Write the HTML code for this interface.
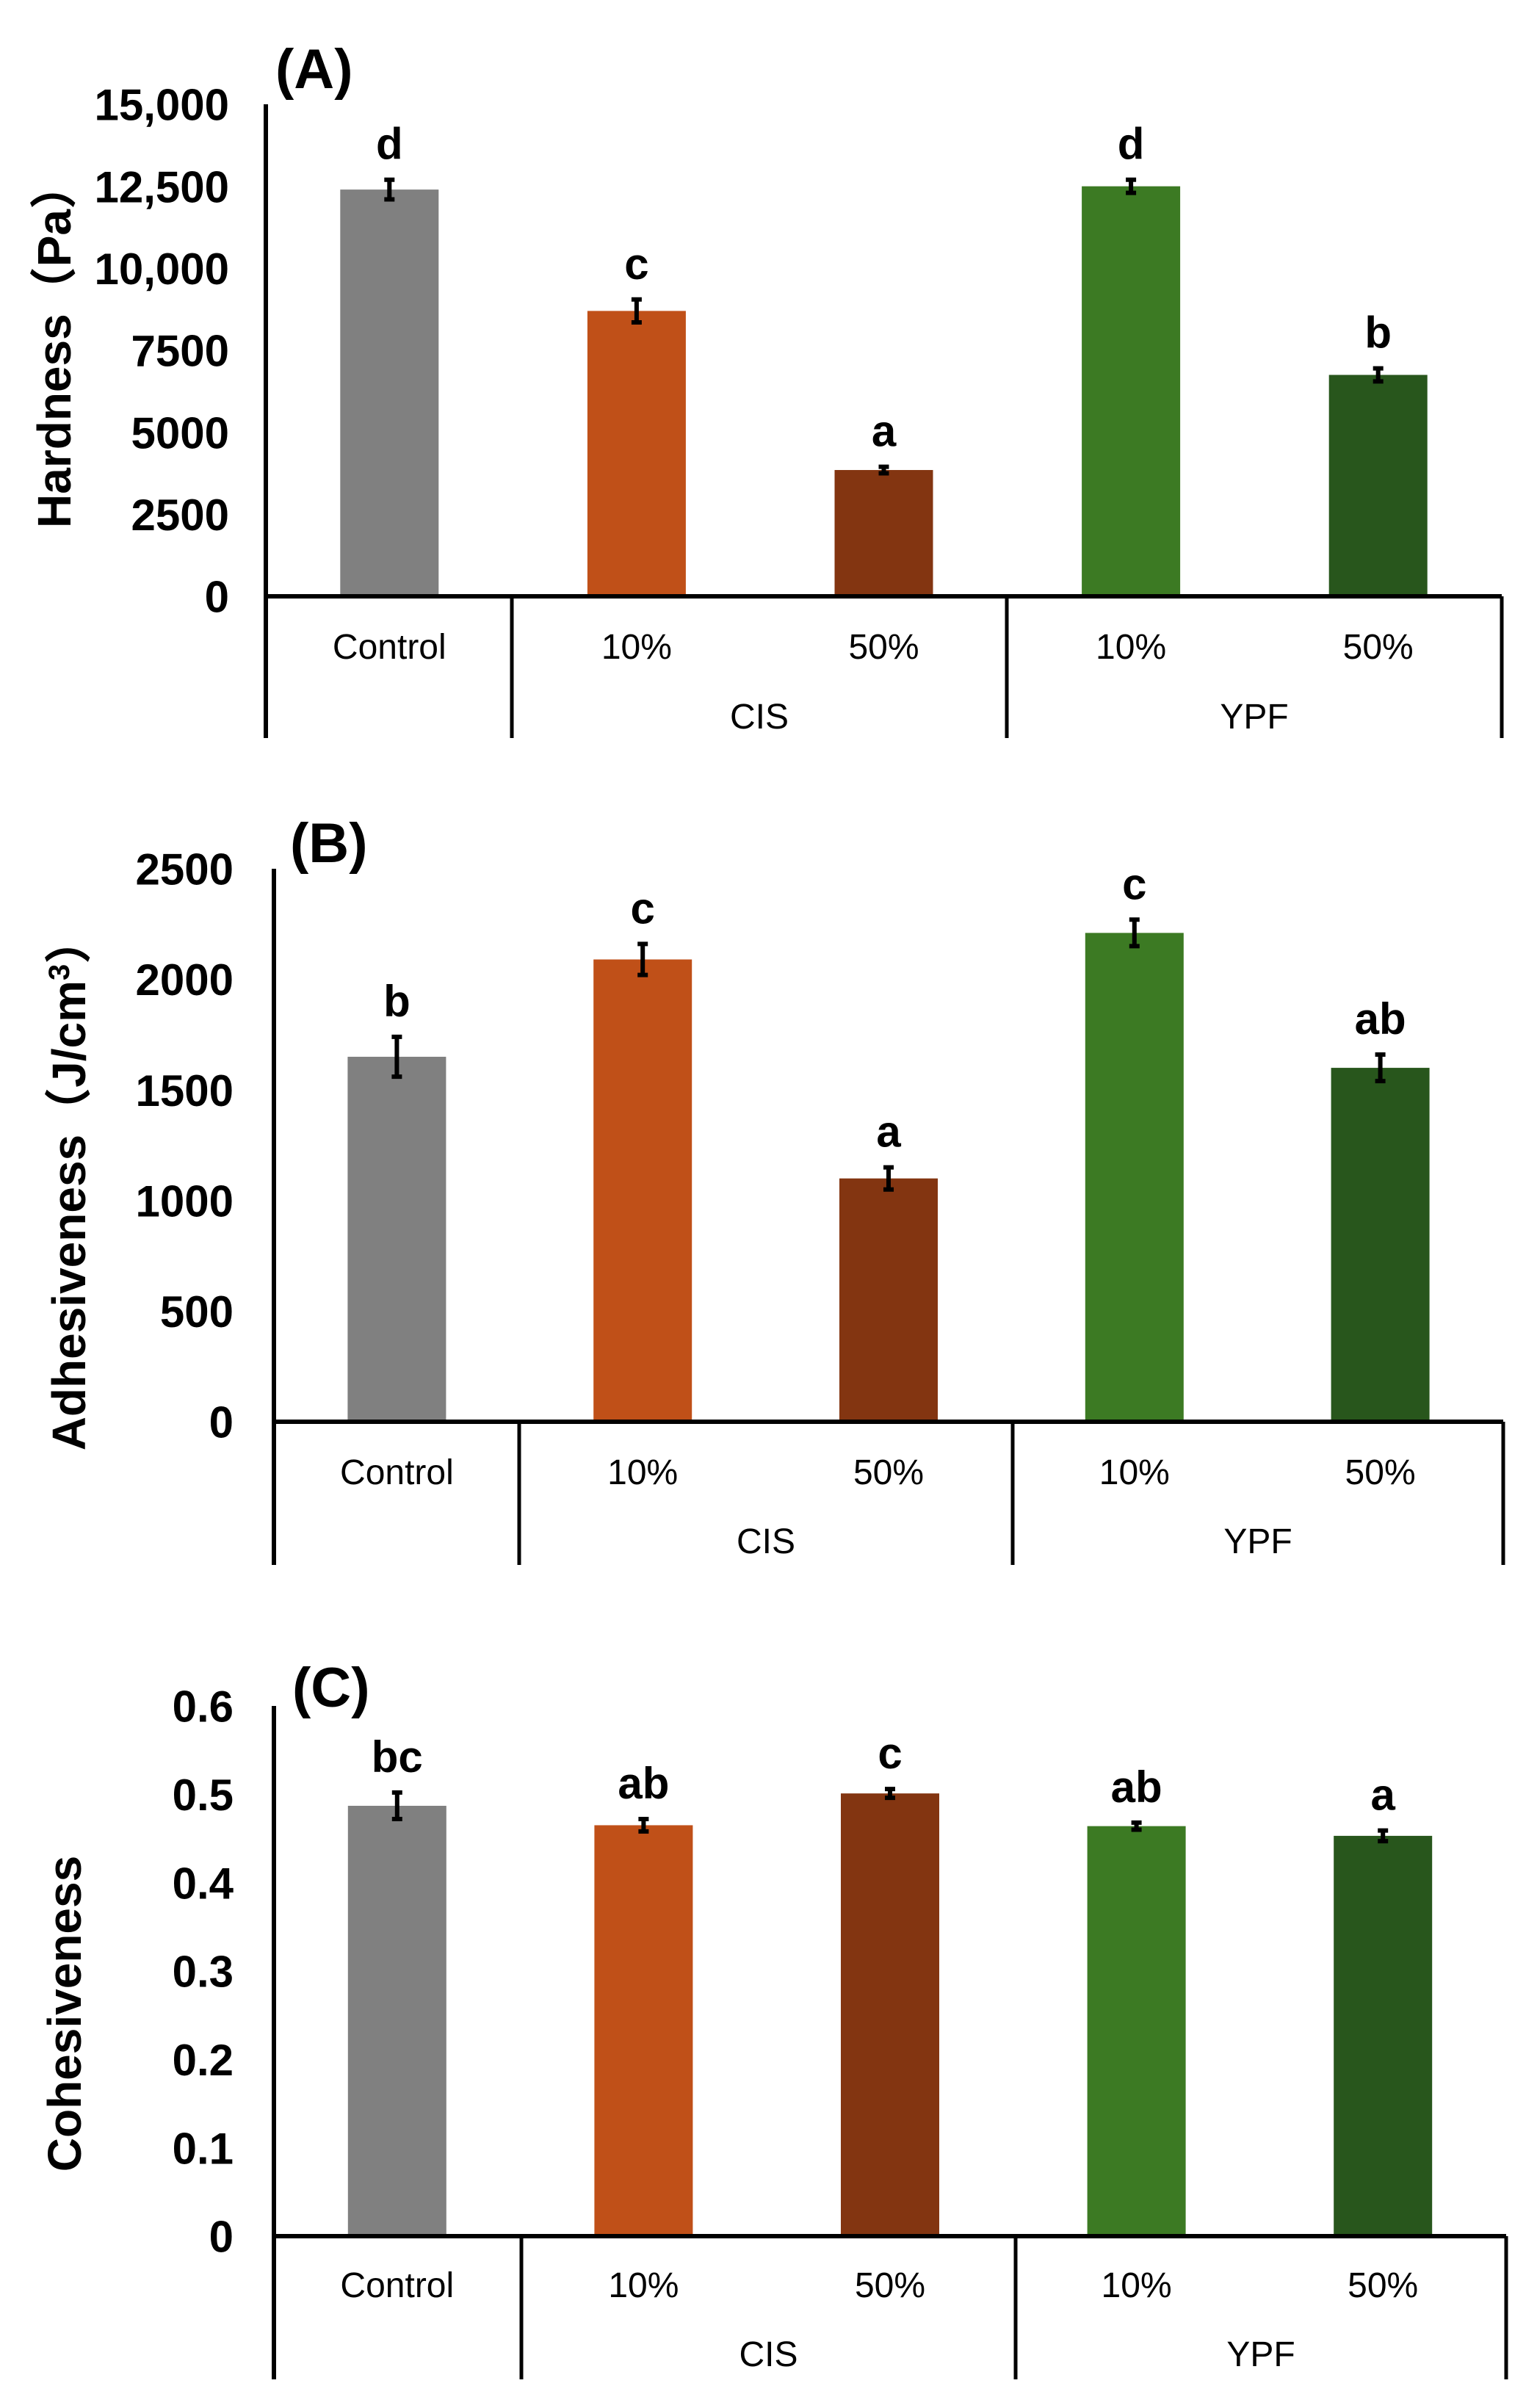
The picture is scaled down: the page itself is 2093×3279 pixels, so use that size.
<!DOCTYPE html>
<html><head><meta charset="utf-8"><style>
html,body{margin:0;padding:0;background:#fff}
svg{display:block}
text{font-family:"Liberation Sans","Noto Sans CJK JP",sans-serif;fill:#000}
</style></head><body>
<svg id="fig" width="2093" height="3279" viewBox="0 0 2093 3279" xmlns="http://www.w3.org/2000/svg"></svg>
<script>
const categories = ["Control","10%","50%","10%","50%"];
const groups = ["CIS","YPF"];
const colors = ["#808080","#C05018","#833511","#3C7A23","#28561C"];
const hardnessValues = [12400, 8700, 3850, 12500, 6750];
const hardnessErrors = [300, 350, 100, 200, 200];
const hardnessLetters = ["d","c","a","d","b"];
const hardnessTicks = ["0","2500","5000","7500","10,000","12,500","15,000"];
const adhesValues = [1650, 2090, 1100, 2210, 1600];
const adhesErrors = [90, 70, 50, 60, 60];
const adhesLetters = ["b","c","a","c","ab"];
const adhesTicks = ["0","500","1000","1500","2000","2500"];
const cohesValues = [0.487, 0.465, 0.501, 0.464, 0.453];
const cohesErrors = [0.015, 0.007, 0.005, 0.004, 0.006];
const cohesLetters = ["bc","ab","c","ab","a"];
const cohesTicks = ["0","0.1","0.2","0.3","0.4","0.5","0.6"];

const NS="http://www.w3.org/2000/svg";
const svg=document.getElementById('fig');
function mk(tag,attrs,parent,txt){const e=document.createElementNS(NS,tag);for(const k in attrs)e.setAttribute(k,attrs[k]);if(txt!==undefined)e.textContent=txt;(parent||svg).appendChild(e);return e;}

function panel(cfg){
  const g=mk('g',{});
  
  
  const max=cfg.max;
  const y=v=>cfg.y0-(v/max)*(cfg.y0-cfg.yTop);
  const x=i=>cfg.x0+(i+0.5)*(cfg.xEnd-cfg.x0)/5;
  const n=cfg.ticks.length;
  for(let i=0;i<n;i++){
    const t=mk('text',{x:cfg.tickX,y:y(max*i/(n-1))+cfg.fs*0.36,'text-anchor':'end','font-size':cfg.fs,'font-weight':'bold'},g,cfg.ticks[i]);
    
    
  }
  for(let i=0;i<5;i++){
    const v=cfg.values[i],e=cfg.errors[i];
    const b=mk('rect',{x:x(i)-67,y:y(v),width:134,height:cfg.y0-y(v),fill:colors[i]},g);
    
    
    const eb=mk('path',{d:`M${x(i)},${y(v+e)}V${y(v-e)}M${x(i)-7},${y(v+e)}H${x(i)+7}M${x(i)-7},${y(v-e)}H${x(i)+7}`,stroke:'#000','stroke-width':6,fill:'none'},g);
    
    
    const l=mk('text',{x:x(i),y:y(v+e)-28,'text-anchor':'middle','font-size':60,'font-weight':'bold'},g,cfg.letters[i]);
    
    
  }
  const ax=mk('path',{d:`M${cfg.x0},${cfg.yTop}V${cfg.yBot}M${cfg.x0},${cfg.y0}H${cfg.xEnd}`,stroke:'#000','stroke-width':6,fill:'none'},g);
  
  
  const dv=mk('path',{d:cfg.dividers.map(d=>`M${d},${cfg.y0}V${cfg.yBot}`).join(''),stroke:'#000','stroke-width':5,fill:'none'},g);
  
  
  for(let i=0;i<5;i++){
    const t=mk('text',{x:x(i),y:cfg.catY,'text-anchor':'middle','font-size':48},g,categories[i]);
    
    
  }
  for(let j=0;j<2;j++){
    const cx=(cfg.dividers[j]+cfg.dividers[j+1])/2;
    const t=mk('text',{x:cx,y:cfg.grpY,'text-anchor':'middle','font-size':48},g,groups[j]);
    
    
  }
  const yt=mk('text',{x:0,y:0,'text-anchor':'middle','font-size':64,'font-weight':'bold',transform:`translate(${cfg.titleX},${cfg.titleY}) rotate(-90)`},g);
  
  
  yt.innerHTML=cfg.title;
  const pl=mk('text',{x:cfg.plX,y:cfg.plY,'font-size':76,'font-weight':'bold'},g,cfg.pl);
  
  
}

panel({name:'hardness-chart',max:15000,values:hardnessValues,errors:hardnessErrors,letters:hardnessLetters,ticks:hardnessTicks,
  x0:362,xEnd:2045,yTop:142,y0:812,yBot:1005,dividers:[697,1371,2045],tickX:312,fs:60,catY:897,grpY:992,
  title:'Hardness（Pa）',titleX:96,titleY:470,pl:'(A)',plX:375,plY:120});
panel({name:'adhesiveness-chart',max:2500,values:adhesValues,errors:adhesErrors,letters:adhesLetters,ticks:adhesTicks,
  x0:373,xEnd:2047,yTop:1183,y0:1936,yBot:2131,dividers:[707,1379,2047],tickX:318,fs:60,catY:2021,grpY:2115,
  title:'Adhesiveness（J/cm<tspan baseline-shift="super" font-size="40">3</tspan>）',titleX:116,titleY:1612,pl:'(B)',plX:395,plY:1174});
panel({name:'cohesiveness-chart',max:0.6,values:cohesValues,errors:cohesErrors,letters:cohesLetters,ticks:cohesTicks,
  x0:373,xEnd:2051,yTop:2323,y0:3045,yBot:3240,dividers:[710,1383,2051],tickX:318,fs:60,catY:3128,grpY:3222,
  title:'Cohesiveness',titleX:110,titleY:2742,pl:'(C)',plX:398,plY:2324});
</script>
</body></html>
